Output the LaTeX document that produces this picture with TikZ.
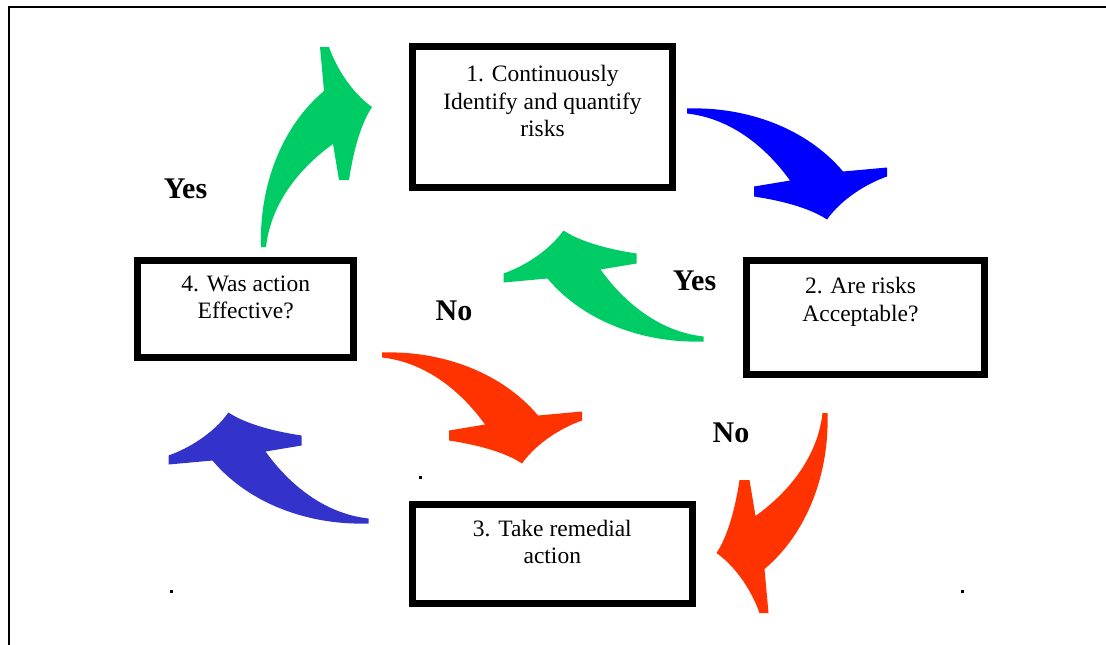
\documentclass[tikz,border=0pt]{standalone}
\usepackage{fontspec}
\setmainfont{Liberation Serif}
\usetikzlibrary{positioning}

\definecolor{arrowgreen}{RGB}{0,204,102}
\definecolor{arrowblue}{RGB}{0,0,255}
\definecolor{arrowred}{RGB}{255,51,0}
\definecolor{arrowslate}{RGB}{51,51,204}

% one curved block arrow, centred on the pic origin, tail on the left and head down right
\tikzset{
	bendarrow/.pic={
		\fill[#1] (-100,-55) .. controls (-40,-57) and (20,-35) .. (56,8)
			-- (100,4) -- (100,13)
			.. controls (80,20) and (55,35) .. (40,56)
			.. controls (25,46) and (0,38) .. (-33,33)
			-- (-33,23) -- (3,17)
			.. controls (-20,-15) and (-55,-45) .. (-100,-50) -- cycle;
	}
}

\begin{document}
\begin{tikzpicture}[x=1pt,y=-1pt]
	\tikzstyle{every node}=[font=\fontsize{23.5}{27.5}\selectfont]
	\tikzstyle{stepbox}=[draw, line width=7pt, inner sep=0pt]
	\tikzstyle{boxtext}=[align=center, inner sep=0pt]
	\tikzstyle{answer}=[font=\fontsize{30}{34}\selectfont\bfseries]

	\useasboundingbox (0,0) rectangle (1106,645);
	\draw[line width=2.3pt] (8.7,645) -- (8.7,7) -- (1106,7);

	% the four boxes, the text sits at the top of each box
	\node[stepbox,
	minimum width=260pt,
	minimum height=141pt] (ident) at (542.5,117) {};
	\node[boxtext, below=22pt of ident.north] (identtext) {1. Continuously\\Identify and quantify\\risks};

	\node[stepbox,
	minimum width=238pt,
	minimum height=114pt] (accept) at (865.5,317.5) {};
	\node[boxtext, below=20pt of accept.north, xshift=-5pt] (accepttext) {2. Are risks\\Acceptable?};

	\node[stepbox,
	minimum width=280pt,
	minimum height=99pt] (remedy) at (552.3,553.7) {};
	\node[boxtext, below=19pt of remedy.north] (remedytext) {3. Take remedial\\action};

	\node[stepbox,
	minimum width=216pt,
	minimum height=97pt] (effect) at (245.7,308.7) {};
	\node[boxtext, below=19pt of effect.north] (effecttext) {4. Was action\\Effective?};

	% arrows round the loop
	\pic[rotate=90] at (316,147) {bendarrow=arrowgreen};
	\pic at (787,163.5) {bendarrow=arrowblue};
	\pic[rotate=-90] at (772.5,513) {bendarrow=arrowred};
	\pic[rotate=180] at (268.5,468.5) {bendarrow=arrowslate};
	% inner arrows
	\pic[rotate=180] at (603.5,286.5) {bendarrow=arrowgreen};
	\pic at (482,407.5) {bendarrow=arrowred};

	\node[answer] (yesloop) at (185.5,188.5) {Yes};
	\node[answer] (yesinner) at (694.5,280.5) {Yes};
	\node[answer] (noinner) at (454,310.5) {No};
	\node[answer] (noloop) at (731,432.5) {No};

	% the little dots
	\fill (418.5,475.5) rectangle ++(3,3);
	\fill (169.5,589.5) rectangle ++(3,3);
	\fill (960.5,589.5) rectangle ++(3,3);
\end{tikzpicture}
\end{document}
